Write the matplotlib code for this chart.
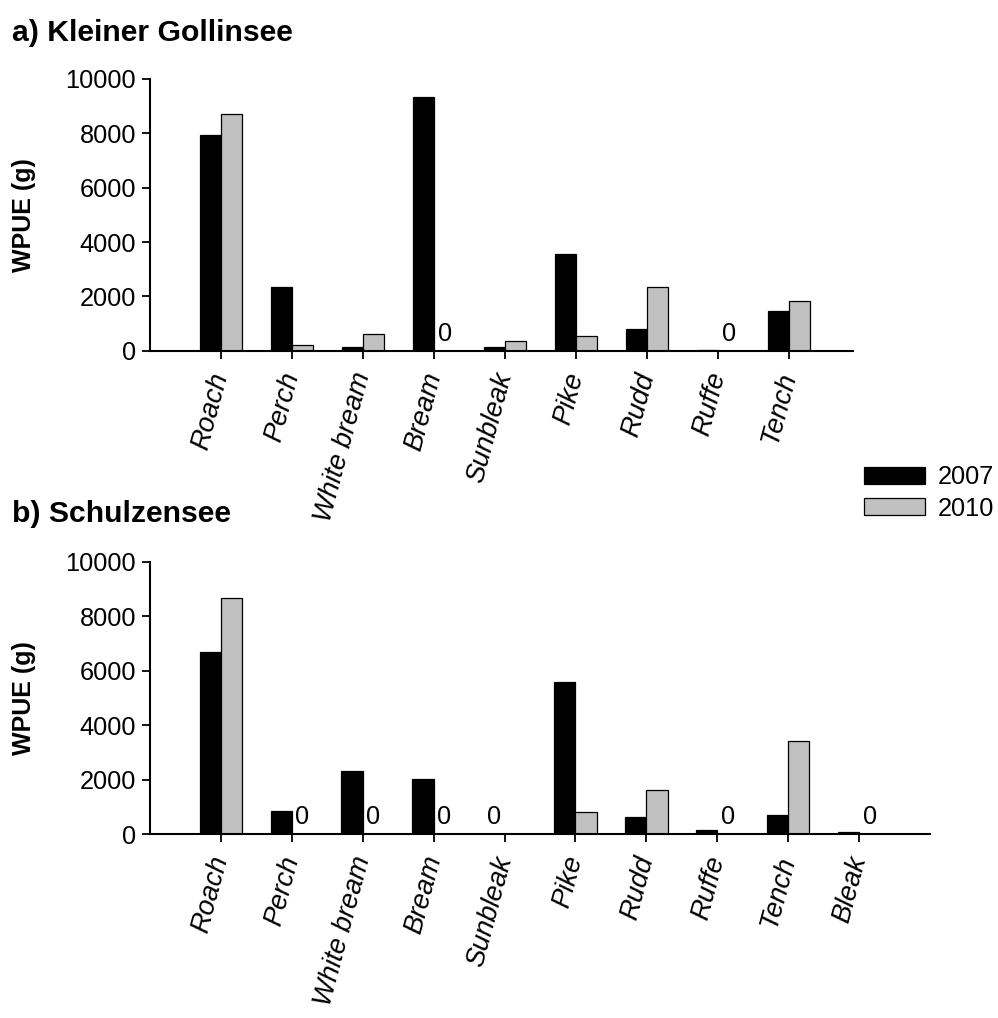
import numpy as np
import matplotlib.pyplot as plt

plt.rcParams['font.family'] = ['Liberation Sans', 'DejaVu Sans']

# Kleiner Gollinsee, WPUE (g)
species_a = ["Roach", "Perch", "White bream", "Bream", "Sunbleak",
             "Pike", "Rudd", "Ruffe", "Tench"]
wpue_a_2007 = [7950, 2350, 120, 9350, 150, 3560, 800, 30, 1470]
wpue_a_2010 = [8720, 210, 610, 0, 370, 550, 2350, 0, 1840]

# Schulzensee, WPUE (g)
species_b = ["Roach", "Perch", "White bream", "Bream", "Sunbleak",
             "Pike", "Rudd", "Ruffe", "Tench", "Bleak"]
wpue_b_2007 = [6700, 840, 2330, 2030, 0, 5590, 640, 130, 700, 80]
wpue_b_2010 = [8660, 0, 0, 0, 10, 800, 1610, 0, 3430, 0]

years = ["2007", "2010"]
colors = ["black", "#c0c0c0"]
W, H = 998, 1018
FS = 18.3

fig = plt.figure(figsize=(W / 100, H / 100), dpi=100)


def panel(rect, names, v07, v10, xmax, title, title_y):
    ax = fig.add_axes([rect[0] / W, 1 - rect[3] / H,
                       (rect[2] - rect[0]) / W, (rect[3] - rect[1]) / H])
    x = np.arange(len(names))
    bw = 0.3
    bars = []
    for vals, off, c in zip([v07, v10], [-bw / 2, bw / 2], colors):
        b = ax.bar(x + off, vals, bw, color=c, edgecolor="black", linewidth=0.9)
        bars.append(b)
        # zero catches get a "0" above the baseline
        for xi, v in zip(x, vals):
            if v == 0:
                ax.text(xi + off, 180, "0", ha="center", va="bottom", fontsize=FS)
    ax.set_xlim(-1, xmax)
    ax.set_ylim(0, 10000)
    ax.set_yticks(np.arange(0, 10001, 2000))
    ax.set_xticks(x)
    ax.set_xticklabels(names, rotation=75, ha="right", va="center",
                       rotation_mode="anchor", style="italic", fontsize=19.5)
    ax.tick_params(axis="x", length=6, width=1.3, pad=10)
    ax.tick_params(axis="y", length=6, width=1.3, labelsize=FS, pad=4)
    for s in ["top", "right"]:
        ax.spines[s].set_visible(False)
    for s in ["left", "bottom"]:
        ax.spines[s].set_linewidth(1.5)
    ax.set_ylabel("WPUE (g)", fontsize=18, fontweight="bold")
    ax.yaxis.set_label_coords((36 - rect[0]) / (rect[2] - rect[0]), 0.5)
    fig.text(12 / W, 1 - title_y / H, title, fontsize=21.7, fontweight="bold",
             ha="left", va="center")
    return ax, bars


ax_a, bars_a = panel((150, 79, 853, 350.7), species_a, wpue_a_2007, wpue_a_2010,
                     8.9, "a) Kleiner Gollinsee", 33)
ax_b, bars_b = panel((150, 561.7, 930, 834), species_b, wpue_b_2007, wpue_b_2010,
                     10, "b) Schulzensee", 514)

fig.legend(bars_a, years, loc="center left", bbox_to_anchor=(864 / W, 1 - 493 / H),
           frameon=False, fontsize=FS, handlelength=2.4, handleheight=0.65,
           handletextpad=0.5, labelspacing=0.3, borderpad=0, borderaxespad=0)

fig.savefig("out.png", dpi=100)
